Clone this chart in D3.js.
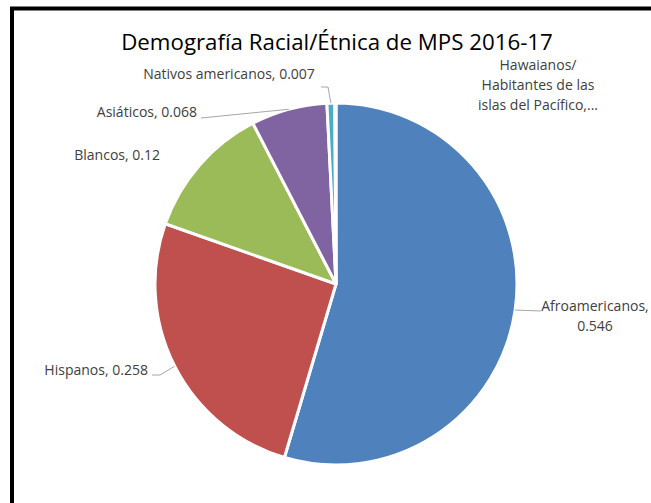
<!DOCTYPE html>
<html>
<head>
<meta charset="utf-8">
<script src="https://cdn.jsdelivr.net/npm/d3@7"></script>
<style>
  html, body { margin: 0; padding: 0; background: #fff; }
  svg { display: block; }
</style>
</head>
<body>
<svg id="chart" width="651" height="503"></svg>
<script>
// Racial / ethnic composition of MPS students, 2016-17
const categories = [
  "Afroamericanos",
  "Hispanos",
  "Blancos",
  "Asiáticos",
  "Nativos americanos",
  "Hawaianos/ Habitantes de las islas del Pacífico"
];
const shares = [0.546, 0.258, 0.12, 0.068, 0.007, 0.001];
const labelTexts = [
  ["Afroamericanos,", "0.546"],
  ["Hispanos, 0.258"],
  ["Blancos, 0.12"],
  ["Asiáticos, 0.068"],
  ["Nativos americanos, 0.007"],
  ["Hawaianos/", "Habitantes de las", "islas del Pacífico,..."]
];
const colors = ["#4F81BD", "#C0504D", "#9BBB59", "#8064A2", "#4BACC6", "#F79646"];

const W = 651, H = 503;
const cx = 336, cy = 284, R = 181;
const font = "'Open Sans', sans-serif";

const svg = d3.select("#chart");

function fitWidth(sel, target) {
  const w = sel.node().getComputedTextLength();
  const fs = +sel.attr("font-size");
  sel.attr("font-size", fs * target / w);
  return fs * target / w;
}

// heading of the page above the framed chart, mostly out of view
svg.append("text")
  .attr("x", 155).attr("y", -6)
  .attr("font-family", font).attr("font-weight", "bold")
  .attr("font-size", 20).attr("fill", "#2E74B5")
  .text("Demography");

// chart frame (top and left edges visible)
svg.append("path")
  .attr("d", `M12,${H} L12,8.5 L${W},8.5`)
  .attr("fill", "none").attr("stroke", "#000").attr("stroke-width", 4);

// title, sized to its box
const title = svg.append("text")
  .attr("x", 337).attr("y", 50)
  .attr("text-anchor", "middle")
  .attr("font-family", font)
  .attr("font-size", 24).attr("fill", "#000")
  .text("Demografía Racial/Étnica de MPS 2016-17");
fitWidth(title, 432);

// data label size taken from the longest single-line label
const probe = svg.append("text").attr("font-family", font).attr("font-size", 14)
  .text("Nativos americanos, 0.007");
const labelSize = fitWidth(probe, 172);
probe.remove();

const data = categories.map((c, i) => ({ name: c, value: shares[i], color: colors[i], lines: labelTexts[i] }));

const pie = d3.pie().sort(null).value(d => d.value).startAngle(0).endAngle(2 * Math.PI);
const arcs = pie(data);
const arc = d3.arc().innerRadius(0).outerRadius(R);

const g = svg.append("g").attr("transform", `translate(${cx},${cy})`);
g.selectAll("path.slice")
  .data(arcs)
  .join("path")
  .attr("class", "slice")
  .attr("d", arc)
  .attr("fill", d => d.data.color)
  .attr("stroke", "#fff")
  .attr("stroke-width", 3)
  .attr("stroke-linejoin", "round");

// label layout: anchor point of text block, alignment, and leader end
const labelLayout = [
  { x: 595, y: 311, anchor: "middle", leader: [[541, 311]] },
  { x: 148, y: 375, anchor: "end", leader: [[152, 375], [160, 375]] },
  { x: 160, y: 160, anchor: "end", leader: null },
  { x: 197, y: 117, anchor: "end", leader: [[201, 118]] },
  { x: 229, y: 79, anchor: "middle", leader: [[321, 87], [328, 87]] },
  { x: 538, y: 70, anchor: "middle", leader: null }
];

const labelColor = "#404040";
const lineH = 20;

arcs.forEach((a, i) => {
  const L = labelLayout[i];
  const mid = (a.startAngle + a.endAngle) / 2;
  const px = cx + R * Math.sin(mid), py = cy - R * Math.cos(mid);
  if (L.leader) {
    const pts = [[px, py]].concat(L.leader.slice().reverse());
    svg.append("path")
      .attr("d", d3.line()(pts))
      .attr("fill", "none")
      .attr("stroke", "#A6A6A6")
      .attr("stroke-width", 1);
  }
  const t = svg.append("text")
    .attr("font-family", font)
    .attr("font-size", labelSize)
    .attr("fill", labelColor)
    .attr("text-anchor", L.anchor);
  a.data.lines.forEach((ln, k) => {
    t.append("tspan").attr("x", L.x).attr("y", L.y + k * lineH).text(ln);
  });
});
</script>
</body>
</html>
